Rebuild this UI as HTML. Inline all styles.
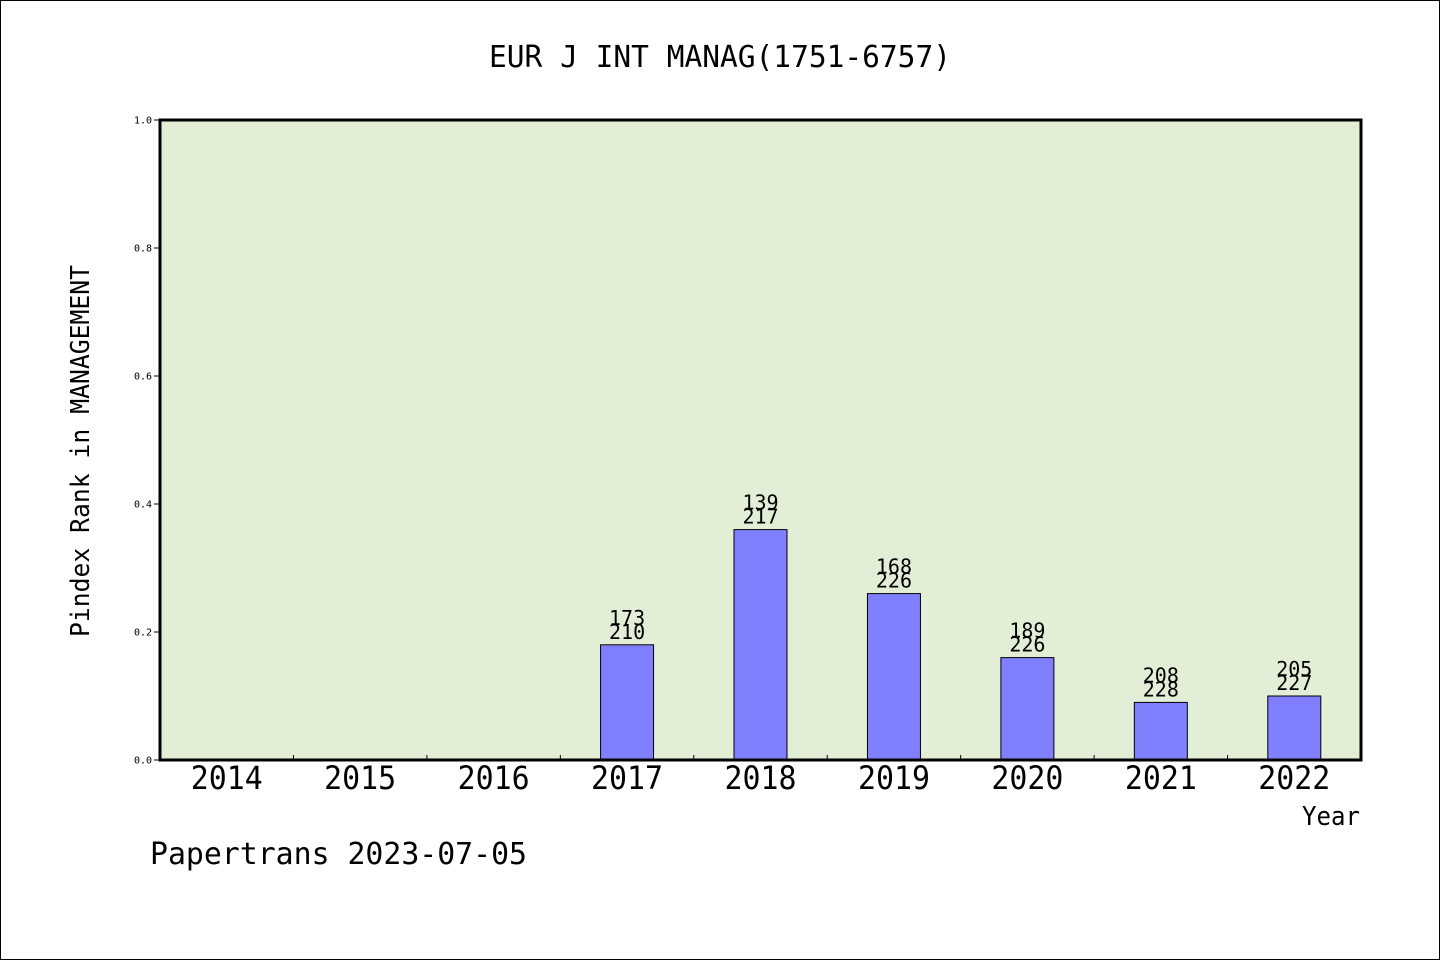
<!DOCTYPE html>
<html><head><meta charset="utf-8"><style>
html,body{margin:0;padding:0;background:#fff}
svg{display:block}
text{font-family:"WenQuanYi Zen Hei Mono","WenQuanYi Zen Hei","DejaVu Sans Mono",monospace;fill:#000}
</style></head><body>
<svg id="chart" width="1440" height="960" viewBox="0 0 1440 960">
<rect x="0.5" y="0.5" width="1439" height="959" fill="#fff" stroke="#000" stroke-width="1"/>
<text x="720" y="67" font-size="30" text-anchor="middle" textLength="462" lengthAdjust="spacingAndGlyphs">EUR J INT MANAG(1751-6757)</text>
<rect x="160" y="120" width="1201" height="640" fill="#e2efd6"/>
<g id="bars"></g>
<g id="axes"></g>
<rect x="160" y="120" width="1201" height="640" fill="none" stroke="#000" stroke-width="3"/>
<text x="0" y="0" font-size="26" text-anchor="middle" textLength="372" lengthAdjust="spacingAndGlyphs" transform="translate(89,451) rotate(-90)">Pindex Rank in MANAGEMENT</text>
<text x="1360" y="825" font-size="26" text-anchor="end" textLength="58" lengthAdjust="spacingAndGlyphs">Year</text>
<text x="150" y="864" font-size="30" textLength="377" lengthAdjust="spacingAndGlyphs">Papertrans 2023-07-05</text>
</svg>
<script>
const categories=["2014","2015","2016","2017","2018","2019","2020","2021","2022"];
const values=[null,null,null,0.18,0.36,0.26,0.16,0.09,0.10];
const rankTop=[null,null,null,"173","139","168","189","208","205"];
const rankBottom=[null,null,null,"210","217","226","226","228","227"];
const yTicks=["0.0","0.2","0.4","0.6","0.8","1.0"];
const NS="http://www.w3.org/2000/svg";
const X0=160,X1=1361,Y0=760,Y1=120;
const slot=(X1-X0)/categories.length;
const xc=i=>X0+slot*(i+0.5);
const y=v=>Y0-(v/1.0)*(Y0-Y1);
function mk(tag,attrs,parent,txt){const e=document.createElementNS(NS,tag);for(const k in attrs)e.setAttribute(k,attrs[k]);if(txt!==undefined)e.textContent=txt;parent.appendChild(e);return e;}
const bars=document.getElementById('bars'),axes=document.getElementById('axes');
categories.forEach((c,i)=>{
  const v=values[i];
  if(v!==null){
    const r=mk('rect',{x:xc(i)-26.5,y:y(v),width:53,height:Y0-y(v),fill:'#8080ff',stroke:'#000','stroke-width':1},bars);
    
    
    const t1=mk('text',{x:xc(i),y:y(v)-20,'font-size':20,'text-anchor':'middle'},bars,rankTop[i]);
    
    
    const t2=mk('text',{x:xc(i),y:y(v)-6,'font-size':20,'text-anchor':'middle'},bars,rankBottom[i]);
    
    
  }
  const tl=mk('text',{x:xc(i),y:789,'font-size':32,'text-anchor':'middle',textLength:72,lengthAdjust:'spacingAndGlyphs'},axes,c);
  
  
  if(i>0){
    const tk=mk('line',{x1:X0+slot*i,x2:X0+slot*i,y1:Y0,y2:Y0-5,stroke:'#000','stroke-width':1},axes);
    
    
  }
});
yTicks.forEach(t=>{
  const v=parseFloat(t);
  const tk=mk('line',{x1:X0-6,x2:X0,y1:y(v),y2:y(v),stroke:'#000','stroke-width':1},axes);
  
  
  const tl=mk('text',{x:X0-8,y:y(v)+3.5,'font-size':10,'text-anchor':'end'},axes,t);
  
  
});
</script>
</body></html>
